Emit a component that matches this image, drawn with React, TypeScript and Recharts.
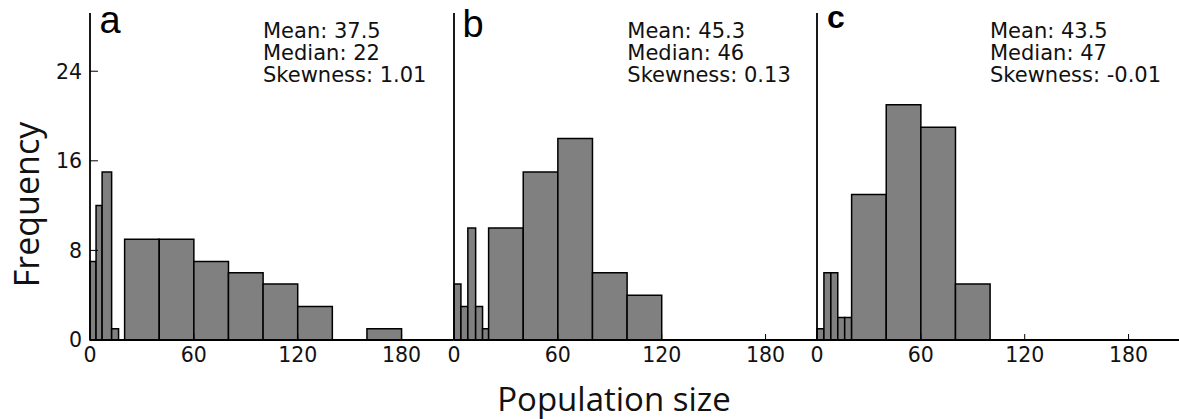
import React from 'react';
import { ComposedChart, XAxis, YAxis, ReferenceArea } from 'recharts';

// Histogram bin edges and counts for each panel
const binEdgesA = [0, 3.5, 7, 12.5, 16.5, 20, 40, 60, 80, 100, 120, 140, 160, 180, 200];
const countsA = [7, 12, 15, 1, 0, 9, 9, 7, 6, 5, 3, 0, 1, 0];
const binEdgesB = [0, 4, 8, 12.5, 16.5, 20, 40, 60, 80, 100, 120, 140, 160, 180, 200];
const countsB = [5, 3, 10, 3, 1, 10, 15, 18, 6, 4, 0, 0, 0, 0];
const binEdgesC = [0, 4, 8, 12, 16, 20, 40, 60, 80, 100, 120, 140, 160, 180, 200];
const countsC = [1, 6, 6, 2, 2, 13, 21, 19, 5, 0, 0, 0, 0, 0];

const panelLetters = ['a', 'b', 'c'];
const means = ['37.5', '45.3', '43.5'];
const medians = ['22', '46', '47'];
const skews = ['1.01', '0.13', '-0.01'];

const xTicks = [0, 60, 120, 180];
const yTicks = [0, 8, 16, 24];
const xDomain = [0, 210];
const yDomain = [0, 29.2];

const xLabel = 'Population size';
const yLabel = 'Frequency';

const W = 1179;
const H = 419;
const AXIS_W = 90;
const PLOT_W = 363.5;
const CHART_W = AXIS_W + PLOT_W + 2;
const panelLefts = [0, 363.5, 727];

const tickFont = { fontFamily: 'DejaVu Sans', fontSize: 20.5, fill: '#111' };

function buildBins(edges: number[], counts: number[]) {
  return counts.map((c, i) => ({ x0: edges[i], x1: edges[i + 1], count: c, mid: (edges[i] + edges[i + 1]) / 2 }));
}

const panels = [
  buildBins(binEdgesA, countsA),
  buildBins(binEdgesB, countsB),
  buildBins(binEdgesC, countsC),
];

function Panel({ bins, showLabels }: { bins: ReturnType<typeof buildBins>; showLabels: boolean }) {
  return (
    <ComposedChart
      width={CHART_W}
      height={H}
      data={bins}
      margin={{ top: 13, right: 2, bottom: 39, left: 0 }}
    >
      <XAxis
        dataKey="mid"
        type="number"
        domain={xDomain}
        ticks={xTicks}
        allowDataOverflow
        height={40}
        axisLine={{ stroke: '#000', strokeWidth: 1.8 }}
        tickLine={{ stroke: '#000', strokeWidth: 1 }}
        tickSize={-6}
        tickMargin={13}
        tick={tickFont}
        interval={0}
      />
      <YAxis
        type="number"
        domain={yDomain}
        ticks={yTicks}
        allowDataOverflow
        width={AXIS_W}
        axisLine={{ stroke: '#000', strokeWidth: 1.8 }}
        tickLine={{ stroke: '#000', strokeWidth: 1 }}
        tickSize={-8}
        tickMargin={16}
        tick={showLabels ? tickFont : false}
        interval={0}
      />
      {bins
        .filter((b) => b.count > 0)
        .map((b, i) => (
          <ReferenceArea
            key={i}
            x1={b.x0}
            x2={b.x1}
            y1={0}
            y2={b.count}
            fill="#808080"
            fillOpacity={1}
            stroke="#000"
            strokeWidth={1.5}
            ifOverflow="visible"
          />
        ))}
    </ComposedChart>
  );
}

const letterStyles = [
  { x: 99.5, y: 33.3, size: 38, weight: 'normal' },
  { x: 462.5, y: 36.7, size: 38, weight: 'normal' },
  { x: 827, y: 27.5, size: 32, weight: 'bold' },
];
const statsX = [263, 627.3, 990];

export default function App() {
  return (
    <div style={{ position: 'absolute', left: 0, top: 0, width: W, height: H, background: '#fff', overflow: 'hidden' }}>
      {panels.map((bins, i) => (
        <div key={i} style={{ position: 'absolute', left: panelLefts[i], top: 0 }}>
          <Panel bins={bins} showLabels={i === 0} />
        </div>
      ))}
      <svg width={W} height={H} style={{ position: 'absolute', left: 0, top: 0, pointerEvents: 'none' }}>
        {panelLetters.map((l, i) => (
          <text
            key={l}
            x={letterStyles[i].x}
            y={letterStyles[i].y}
            fontFamily="Liberation Sans"
            fontSize={letterStyles[i].size}
            fontWeight={letterStyles[i].weight}
            fill="#000"
          >
            {l}
          </text>
        ))}
        {panelLetters.map((l, i) => (
          <g key={'s' + l} fontFamily="DejaVu Sans" fontSize={21} fill="#111">
            <text x={statsX[i]} y={37.7}>{`Mean: ${means[i]}`}</text>
            <text x={statsX[i]} y={59.7}>{`Median: ${medians[i]}`}</text>
            <text x={statsX[i]} y={81.7}>{`Skewness: ${skews[i]}`}</text>
          </g>
        ))}
        <text
          x={614}
          y={410.5}
          textAnchor="middle"
          fontFamily="Open Sans"
          fontSize={33}
          fill="#111"
        >
          {xLabel}
        </text>
        <text
          transform="translate(38.5,204.5) rotate(-90)"
          textAnchor="middle"
          fontFamily="Open Sans"
          fontSize={34}
          fill="#111"
        >
          {yLabel}
        </text>
      </svg>
    </div>
  );
}
